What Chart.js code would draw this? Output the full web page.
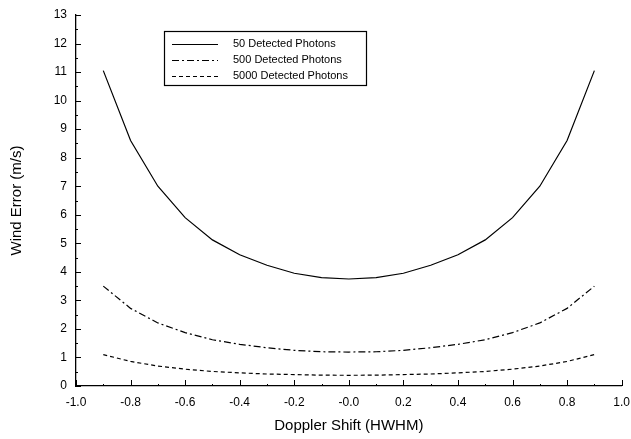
<!DOCTYPE html>
<html>
<head>
<meta charset="utf-8">
<script src="https://cdn.jsdelivr.net/npm/chart.js@4/dist/chart.umd.min.js"></script>
<style>
  body { margin: 0; background: #fff; }
  #wrap { width: 631px; height: 439px; }
</style>
</head>
<body>
<div id="wrap"><canvas id="chart"></canvas></div>
<script>
// doppler shift positions (HWHM)
const shifts = [-0.9, -0.8, -0.7, -0.6, -0.5, -0.4, -0.3, -0.2, -0.1, 0.0, 0.1, 0.2, 0.3, 0.4, 0.5, 0.6, 0.7, 0.8, 0.9];
const err50 = [11.05, 8.6, 7.0, 5.9, 5.12, 4.6, 4.23, 3.95, 3.8, 3.75, 3.8, 3.95, 4.23, 4.6, 5.12, 5.9, 7.0, 8.6, 11.05];
const err500 = [3.5, 2.72, 2.21, 1.87, 1.62, 1.46, 1.34, 1.25, 1.2, 1.19, 1.2, 1.25, 1.34, 1.46, 1.62, 1.87, 2.21, 2.72, 3.5];
const err5000 = [1.1, 0.86, 0.7, 0.59, 0.51, 0.46, 0.42, 0.4, 0.38, 0.375, 0.38, 0.4, 0.42, 0.46, 0.51, 0.59, 0.7, 0.86, 1.1];
const seriesNames = ['50 Detected Photons', '500 Detected Photons', '5000 Detected Photons'];
const xTicks = [-1.0, -0.8, -0.6, -0.4, -0.2, 0.0, 0.2, 0.4, 0.6, 0.8, 1.0];

const font = 'Liberation Sans, Arial, sans-serif';

function pts(ys) {
  return shifts.map((x, i) => ({ x: x, y: ys[i] }));
}

// inward tick marks, like the original plot
const inwardTicks = {
  id: 'inwardTicks',
  afterDraw(chart) {
    let ctx = chart.ctx;
    let xs = chart.scales.x;
    let ys = chart.scales.y;
    ctx.save();
    ctx.strokeStyle = '#000';
    ctx.lineWidth = 1;
    ctx.beginPath();
    for (let v = -10; v <= 10; v++) {
      let px = Math.round(xs.getPixelForValue(v / 10)) + 0.5;
      let len = v % 2 === 0 ? 6 : 2;
      ctx.moveTo(px, ys.bottom);
      ctx.lineTo(px, ys.bottom - len);
    }
    for (let v = 0; v <= 26; v++) {
      let py = Math.round(ys.getPixelForValue(v / 2)) + 0.5;
      let len = v % 2 === 0 ? 5 : 2;
      ctx.moveTo(xs.left, py);
      ctx.lineTo(xs.left + len, py);
    }
    ctx.stroke();
    ctx.restore();
  }
};

// boxed legend in upper left of the plot
const boxLegend = {
  id: 'boxLegend',
  afterDraw(chart) {
    let ctx = chart.ctx;
    let left = 164, top = 31, w = 202, h = 54;
    ctx.save();
    ctx.fillStyle = '#fff';
    ctx.fillRect(left, top, w, h);
    ctx.strokeStyle = '#000';
    ctx.lineWidth = 1.2;
    ctx.strokeRect(left + 0.5, top + 0.5, w, h);
    ctx.font = '11px ' + font;
    ctx.textBaseline = 'middle';
    chart.data.datasets.forEach((ds, i) => {
      let y = top + 13 + i * 16;
      ctx.strokeStyle = '#000';
      ctx.lineWidth = ds.borderWidth;
      ctx.setLineDash(ds.borderDash || []);
      ctx.beginPath();
      ctx.moveTo(left + 8, y + 0.5);
      ctx.lineTo(left + 54, y + 0.5);
      ctx.stroke();
      ctx.setLineDash([]);
      ctx.fillStyle = '#000';
      ctx.fillText(ds.label, left + 69, y);
    });
    ctx.restore();
  }
};

new Chart(document.getElementById('chart'), {
  type: 'line',
  data: {
    datasets: [
      { label: seriesNames[0], data: pts(err50), borderColor: '#000', borderWidth: 1.2, pointRadius: 0, tension: 0 },
      { label: seriesNames[1], data: pts(err500), borderColor: '#000', borderWidth: 1.2, borderDash: [7, 3, 2, 3], pointRadius: 0, tension: 0 },
      { label: seriesNames[2], data: pts(err5000), borderColor: '#000', borderWidth: 1.2, borderDash: [4, 3], pointRadius: 0, tension: 0 }
    ]
  },
  options: {
    responsive: true,
    maintainAspectRatio: false,
    animation: false,
    layout: { padding: { top: 15, right: 1, left: 0, bottom: 0 } },
    plugins: { legend: { display: false }, tooltip: { enabled: false } },
    scales: {
      x: {
        type: 'linear',
        min: -1, max: 1,
        afterBuildTicks: (scale) => { scale.ticks = xTicks.map(v => ({ value: v })); },
        afterFit: (scale) => { scale.height = 53; },
        grid: { display: false },
        border: { display: true, color: '#000', width: 1.3 },
        ticks: {
          color: '#000', font: { family: font, size: 12 }, padding: 1,
          maxRotation: 0,
          callback: (v) => (v === 0 ? '-0.0' : v.toFixed(1))
        },
        title: { display: true, text: 'Doppler Shift (HWHM)', color: '#000', font: { family: font, size: 15 }, padding: { top: 13 } }
      },
      y: {
        min: 0, max: 13,
        afterFit: (scale) => { scale.width = 76; },
        grid: { display: false },
        border: { display: true, color: '#000', width: 1.3 },
        ticks: { stepSize: 1, color: '#000', font: { family: font, size: 12 }, padding: 1 },
        title: { display: true, text: 'Wind Error (m/s)', color: '#000', font: { family: font, size: 15 }, padding: { top: 8, bottom: 0 } }
      }
    }
  },
  plugins: [inwardTicks, boxLegend]
});
</script>
</body>
</html>
